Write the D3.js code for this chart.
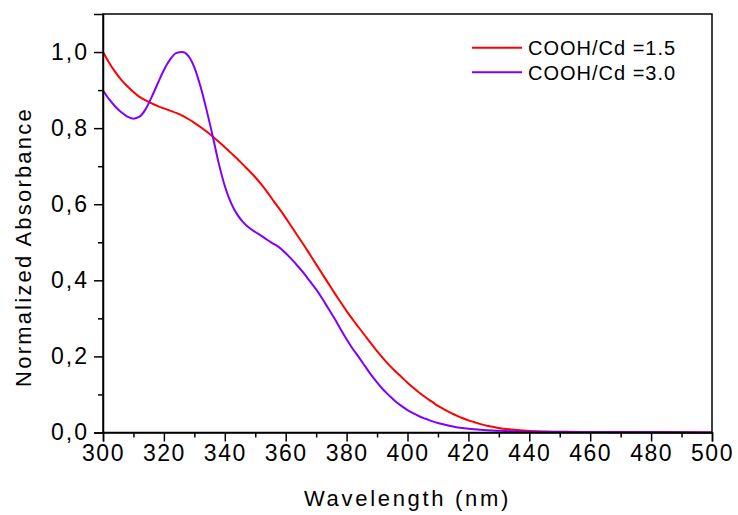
<!DOCTYPE html>
<html>
<head>
<meta charset="utf-8">
<script src="https://cdn.jsdelivr.net/npm/d3@7/dist/d3.min.js"></script>
<style>
  html, body { margin: 0; padding: 0; background: #fff; }
  svg { display: block; }
  text { font-family: "Liberation Sans", Arial, sans-serif; fill: #000; }
</style>
</head>
<body>
<svg id="chart" width="738" height="515"></svg>
<script>
// Absorption spectra, normalized to their maxima
const wavelengths15 = [300,302,304,306,308,310,312,314,316,318,320,322,324,326,328,330,332,334,336,338,340,342,344,346,348,350,352,354,356,358,360,362,364,366,368,370,372,374,376,378,380,382,384,386,388,390,392,394,396,398,400,402,404,406,408,410,412,414,416,418,420,422,424,426,428,430,434,438,442,450,460,480,500];
const absorbance15 = [1.000,0.972,0.948,0.927,0.910,0.895,0.882,0.873,0.865,0.858,0.852,0.846,0.840,0.833,0.824,0.814,0.803,0.791,0.778,0.764,0.750,0.735,0.720,0.704,0.688,0.671,0.652,0.631,0.609,0.587,0.564,0.540,0.516,0.492,0.467,0.442,0.417,0.392,0.367,0.343,0.319,0.297,0.276,0.255,0.234,0.214,0.195,0.177,0.161,0.146,0.131,0.117,0.104,0.092,0.081,0.070,0.061,0.052,0.045,0.038,0.032,0.027,0.022,0.018,0.015,0.012,0.008,0.005,0.003,0.002,0.001,0.001,0.000];

const wavelengths30 = [300,302,304,306,308,310,312,314,316,318,320,322,324,326,328,330,332,334,336,338,340,342,344,346,348,350,352,354,356,358,360,362,364,366,368,370,372,374,376,378,380,382,384,386,388,390,392,394,396,398,400,402,404,406,408,410,412,414,416,418,420,424,428,432,440,460,500];
const absorbance30 = [0.899,0.876,0.857,0.842,0.830,0.825,0.830,0.850,0.882,0.918,0.953,0.980,0.997,1.000,0.990,0.960,0.910,0.848,0.780,0.708,0.648,0.604,0.574,0.553,0.538,0.527,0.517,0.506,0.496,0.486,0.471,0.455,0.437,0.418,0.397,0.376,0.352,0.326,0.300,0.272,0.245,0.220,0.198,0.175,0.152,0.132,0.113,0.097,0.082,0.070,0.059,0.050,0.042,0.036,0.030,0.025,0.021,0.017,0.014,0.012,0.010,0.007,0.005,0.004,0.002,0.001,0.000];

const seriesNames = ["COOH/Cd =1.5", "COOH/Cd =3.0"];
const seriesColors = ["#ff0000", "#8000ff"];

const xMajorTicks = [300,320,340,360,380,400,420,440,460,480,500];
const xMinorTicks = [310,330,350,370,390,410,430,450,470,490];
const yMajorTicks = [0,0.2,0.4,0.6,0.8,1.0];
const yMinorTicks = [0.1,0.3,0.5,0.7,0.9];

const xTitle = "Wavelength (nm)";
const yTitle = "Normalized Absorbance";

const W = 738, H = 515;
const margin = { left: 103, right: 26, top: 14, bottom: 82.5 };
const iw = W - margin.left - margin.right;
const ih = H - margin.top - margin.bottom;

const svg = d3.select("#chart");
const g = svg.append("g").attr("transform", `translate(${margin.left},${margin.top})`);

const x = d3.scaleLinear().domain([300, 500]).range([0, iw]);
const y = d3.scaleLinear().domain([0, 1.1]).range([ih, 0]);

const fmtY = v => d3.format(".1f")(v).replace(".", ",");

// Curves
const series = [
  { name: seriesNames[0], color: seriesColors[0], pts: wavelengths15.map((w, i) => [w, absorbance15[i]]) },
  { name: seriesNames[1], color: seriesColors[1], pts: wavelengths30.map((w, i) => [w, absorbance30[i]]) }
];

const line = d3.line().x(d => x(d[0])).y(d => y(d[1])).curve(d3.curveMonotoneX);

const plot = g.append("g");
series.forEach(s => {
  plot.append("path")
    .datum(s.pts)
    .attr("fill", "none")
    .attr("stroke", s.color)
    .attr("stroke-width", 2)
    .attr("stroke-linejoin", "round")
    .attr("d", line);
});

// Frame
g.append("rect")
  .attr("x", 0).attr("y", 0).attr("width", iw).attr("height", ih)
  .attr("fill", "none").attr("stroke", "#000").attr("stroke-width", 1.5);

// Bottom axis
const xAxis = d3.axisBottom(x).tickValues(xMajorTicks).tickSize(9).tickPadding(3).tickFormat(d3.format("d"));
const gx = g.append("g").attr("transform", `translate(0,${ih})`).call(xAxis);
gx.select(".domain").attr("stroke-width", 1.5);
gx.selectAll(".tick line").attr("stroke-width", 1.5);
gx.selectAll(".tick text")
  .style("font-size", "23px")
  .style("letter-spacing", "1.5px")
  .attr("font-family", null);
const xMinor = d3.axisBottom(x).tickValues(xMinorTicks).tickSize(5).tickFormat("");
const gxm = g.append("g").attr("transform", `translate(0,${ih})`).call(xMinor);
gxm.select(".domain").remove();
gxm.selectAll(".tick line").attr("stroke-width", 1.5);

// Left axis
const yAxis = d3.axisLeft(y).tickValues(yMajorTicks).tickSize(9).tickPadding(5).tickFormat(fmtY);
const gy = g.append("g").call(yAxis);
gy.select(".domain").attr("stroke-width", 1.5);
gy.selectAll(".tick line").attr("stroke-width", 1.5);
gy.selectAll(".tick text")
  .style("font-size", "23px")
  .style("letter-spacing", "2px")
  .attr("font-family", null);
const yMinor = d3.axisLeft(y).tickValues(yMinorTicks).tickSize(5).tickFormat("");
const gym = g.append("g").call(yMinor);
gym.select(".domain").remove();
gym.selectAll(".tick line").attr("stroke-width", 1.5);

// Axis titles
svg.append("text")
  .attr("x", margin.left + x(400)).attr("y", 506)
  .attr("text-anchor", "middle")
  .style("font-size", "22px")
  .style("letter-spacing", "2.7px")
  .text(xTitle);

svg.append("text")
  .attr("transform", `translate(31,247) rotate(-90)`)
  .attr("text-anchor", "middle")
  .style("font-size", "22px")
  .style("letter-spacing", "2.2px")
  .text(yTitle);

// Legend
const legend = svg.append("g");
series.forEach((s, i) => {
  const ly = 47.7 + i * 24.6;
  legend.append("line")
    .attr("x1", 472).attr("x2", 522).attr("y1", ly).attr("y2", ly)
    .attr("stroke", s.color).attr("stroke-width", 2);
  legend.append("text")
    .attr("x", 528).attr("y", ly).attr("dy", "0.36em")
    .style("font-size", "20px")
    .style("letter-spacing", "1px")
    .text(s.name);
});
</script>
</body>
</html>
